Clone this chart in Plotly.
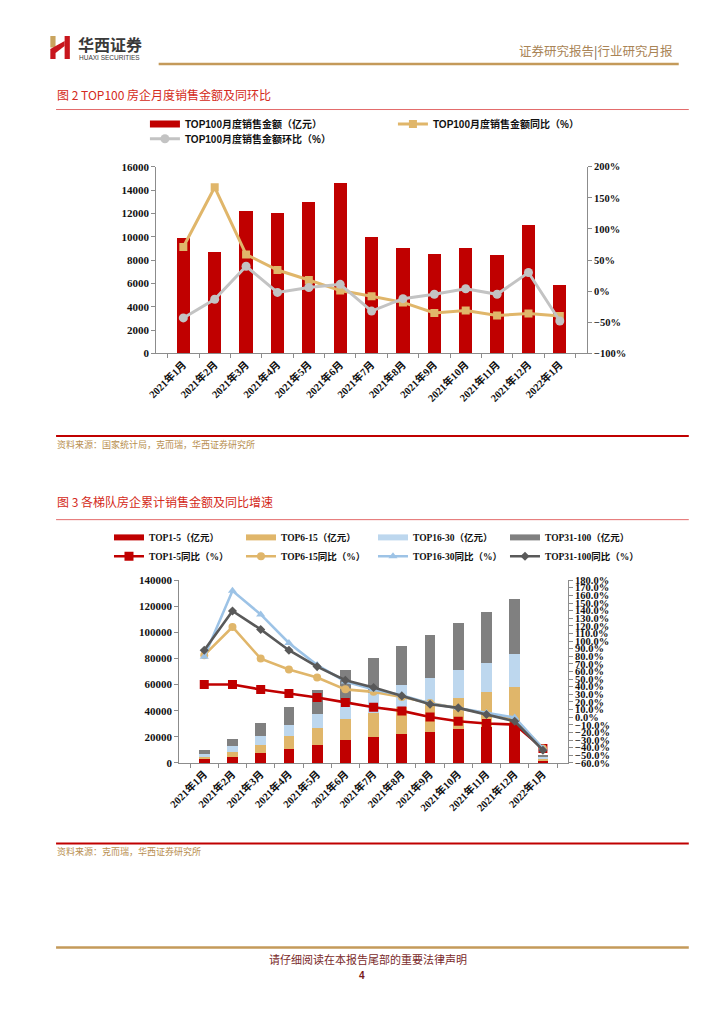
import plotly.graph_objects as go

W, H = 724, 1024

# ---------------- data ----------------
months = ["2021年1月", "2021年2月", "2021年3月", "2021年4月", "2021年5月", "2021年6月",
          "2021年7月", "2021年8月", "2021年9月", "2021年10月", "2021年11月", "2021年12月",
          "2022年1月"]

# Figure 2: TOP100 monthly sales (亿元) and YoY / MoM (%)
top100_sales = [9850, 8700, 12200, 12050, 12950, 14600, 10000, 9000, 8550, 9000, 8430, 11000, 5880]
top100_yoy = [71, 167, 59, 34, 18, 1, -8, -18, -35, -31, -39, -36, -40]
top100_mom = [-43, -13, 40, -2, 6, 11, -32, -12, -5, 4, -5, 30, -48]

# Figure 3: cumulative sales by tier (亿元)
top1_5 = [2650, 4600, 7700, 10800, 13900, 17500, 20000, 22000, 23900, 25700, 27700, 29800, 2100]
top6_15 = [1950, 3900, 6400, 9700, 12800, 15900, 18500, 21000, 23100, 24300, 26700, 28200, 1300]
top16_30 = [2050, 4200, 6700, 8500, 10500, 13500, 15000, 16500, 18400, 21300, 22100, 25600, 1200]
top31_100 = [3150, 5700, 9700, 14100, 18700, 23900, 26800, 29700, 32800, 35900, 39200, 42300, 1300]

# Figure 3: YoY growth by tier (%)
yoy1_5 = [43, 43, 36.4, 31, 26, 19.5, 13, 8.3, 0.4, -5.3, -8.3, -9.6, -41]
yoy6_15 = [81.5, 118.5, 77, 62.7, 52.2, 36.6, 33.3, 26.7, 18.8, 12.3, 4.8, -1.8, -41]
yoy16_30 = [79.5, 166, 135, 97.6, 68.5, 47, 36.4, 28.9, 18, 12.3, 5.7, -0.4, -41]
yoy31_100 = [88, 139.5, 115.3, 88, 66.5, 48.6, 39, 28, 17, 12.3, 3.5, -5.3, -43.4]

# ---------------- styles ----------------
RED = "#C00000"
TAN = "#E0B66A"
LGRAY = "#C3C3C3"
LBLUE_BAR = "#BDD7EE"
LBLUE_LINE = "#9DC3E6"
DGRAY_BAR = "#808080"
DGRAY_LINE = "#595959"
AX = "#8C8C8C"
TITLE_RED = "#D42A20"
SRC = "#B88E4E"
GOLD = "#C49A5A"

SERIF = "Liberation Serif, Noto Sans CJK SC"
CJK = "Noto Sans CJK SC"

# placement helpers (page pixel -> paper fraction), with a small calibration
SX, OX = 0.979, 13.2
SY, OY = 0.988, 6.0


def px(x):
    return (x - OX) / SX / W


def py(y):
    return 1 - (y - OY) / SY / H


def rx(x):  # raw page px
    return x / W


def ry(y):
    return 1 - y / H


fig = go.Figure()

# ---------------- chart 1 ----------------
fig.add_trace(go.Bar(x=months, y=top100_sales, width=0.42, marker=dict(color=RED, line=dict(width=0)),
                     showlegend=False, xaxis="x", yaxis="y"))
fig.add_trace(go.Scatter(x=[None], y=[None], mode="lines", line=dict(color=RED, width=7),
                         name="TOP100月度销售金额（亿元）", legend="legend", legendrank=1,
                         xaxis="x", yaxis="y"))
fig.add_trace(go.Scatter(x=months, y=top100_yoy, mode="lines+markers",
                         line=dict(color=TAN, width=3), marker=dict(symbol="square", size=8, color=TAN),
                         name="TOP100月度销售金额同比（%）", legend="legend", legendrank=2,
                         xaxis="x", yaxis="y2"))
fig.add_trace(go.Scatter(x=months, y=top100_mom, mode="lines+markers",
                         line=dict(color=LGRAY, width=3), marker=dict(symbol="circle", size=9, color=LGRAY),
                         name="TOP100月度销售金额环比（%）", legend="legend2", legendrank=3,
                         xaxis="x", yaxis="y2"))

# ---------------- chart 2 ----------------
bar_series = [("TOP1-5（亿元）", top1_5, RED), ("TOP6-15（亿元）", top6_15, TAN),
              ("TOP16-30（亿元）", top16_30, LBLUE_BAR), ("TOP31-100（亿元）", top31_100, DGRAY_BAR)]
for name, vals, col in bar_series:
    fig.add_trace(go.Bar(x=months, y=vals, width=0.38, marker=dict(color=col, line=dict(width=0)),
                         showlegend=False, xaxis="x2", yaxis="y3"))
for i, (name, vals, col) in enumerate(bar_series):
    fig.add_trace(go.Scatter(x=[None], y=[None], mode="lines", line=dict(color=col, width=6),
                             name=name, legend="legend3", legendrank=10 + i, xaxis="x2", yaxis="y3"))

line_series = [("TOP1-5同比（%）", yoy1_5, RED, "square", 9),
               ("TOP6-15同比（%）", yoy6_15, TAN, "circle", 8),
               ("TOP16-30同比（%）", yoy16_30, LBLUE_LINE, "triangle-up", 8),
               ("TOP31-100同比（%）", yoy31_100, DGRAY_LINE, "diamond", 7)]
for i, (name, vals, col, sym, sz) in enumerate(line_series):
    fig.add_trace(go.Scatter(x=months, y=vals, mode="lines+markers",
                             line=dict(color=col, width=2.6), marker=dict(symbol=sym, size=sz, color=col),
                             name=name, legend="legend4", legendrank=20 + i, xaxis="x2", yaxis="y4"))

tick_num = dict(family=SERIF, size=11, color="#111111", weight="bold")
tick_pct = dict(family=SERIF, size=10.5, color="#111111", weight="bold")
tick_x = dict(family=SERIF, size=10.5, color="#111111", weight="bold")

common_axis = dict(showline=True, linecolor=AX, linewidth=1, ticks="outside", ticklen=4,
                   tickcolor=AX, showgrid=False, zeroline=False, fixedrange=True)

legend_common = dict(orientation="h", xanchor="left", yanchor="middle", bgcolor="rgba(0,0,0,0)",
                     itemwidth=30, entrywidthmode="pixels", tracegroupgap=0, traceorder="normal")

LEG1_FONT = dict(family="Liberation Sans, Noto Sans CJK SC", size=10, color="#111111", weight="bold")
LEG2_FONT = dict(family=SERIF, size=9.5, color="#111111", weight="bold")

fig.update_layout(
    width=W, height=H, margin=dict(l=0, r=0, t=0, b=0),
    paper_bgcolor="white", plot_bgcolor="rgba(0,0,0,0)",
    barmode="stack",
    xaxis=dict(domain=[px(157.5), px(585.8)], anchor="y", type="category", tickson="boundaries",
               tickangle=-45, tickfont=tick_x, **common_axis),
    yaxis=dict(domain=[py(353.3), py(166.7)], anchor="x", range=[0, 16000], dtick=2000,
               tickformat="d", tickfont=tick_num, **common_axis),
    yaxis2=dict(overlaying="y", side="right", anchor="x", range=[-100, 200], dtick=50,
                ticksuffix="%", tickfont=tick_pct, **common_axis),
    xaxis2=dict(domain=[px(180.4), px(566.9)], anchor="y3", type="category", tickson="boundaries",
                tickangle=-45, tickfont=tick_x, **common_axis),
    yaxis3=dict(domain=[py(762.7), py(580)], anchor="x2", range=[0, 140000], dtick=20000,
                tickformat="d", tickfont=tick_num, **common_axis),
    yaxis4=dict(overlaying="y3", side="right", anchor="x2", range=[-60, 180], dtick=10,
                tickformat=".1f", ticksuffix="%", tickfont=tick_pct, **common_axis),
    legend=dict(x=rx(136), y=ry(119.3), entrywidth=203, font=LEG1_FONT, **legend_common),
    legend2=dict(x=rx(136), y=ry(134.3), entrywidth=203, font=LEG1_FONT, **legend_common),
    legend3=dict(x=rx(99.5), y=ry(537.7), entrywidth=87, font=LEG2_FONT, **legend_common),
    legend4=dict(x=rx(99.5), y=ry(556.7), entrywidth=87, font=LEG2_FONT, **legend_common),
)

# ---------------- page decorations ----------------
shapes = []


def hline(x0, x1, y, color, width):
    shapes.append(dict(type="line", xref="paper", yref="paper", x0=px(x0), x1=px(x1), y0=py(y), y1=py(y),
                       line=dict(color=color, width=width)))


hline(160, 677, 64, GOLD, 2.5)          # header rule
hline(58, 687, 109.5, "#E36A6A", 1)     # under title 2
hline(58, 687, 436, RED, 2)             # above source 1
hline(58, 687, 519.5, "#E36A6A", 1)     # under title 3
hline(58, 687, 843.3, RED, 2)           # above source 2
hline(58, 687, 947.3, GOLD, 2.5)        # footer rule


def rect(x0, y0, x1, y1, color):
    shapes.append(dict(type="rect", xref="paper", yref="paper", x0=px(x0), x1=px(x1), y0=py(y1), y1=py(y0),
                       fillcolor=color, line=dict(width=0)))


# logo
rect(52.3, 36, 57.5, 47.5, "#C9A45E")
rect(66.5, 36, 71.7, 59, "#C8161D")
rect(52.3, 49, 57.5, 59, "#C8161D")
pts = [(52.3, 49), (66.5, 41), (66.5, 46), (57.5, 53)]
path = "M " + " L ".join(f"{px(a)},{py(b)}" for a, b in pts) + " Z"
shapes.append(dict(type="path", xref="paper", yref="paper", path=path, fillcolor="#C8161D", line=dict(width=0)))

annotations = []


def text(x, y, s, size, color, family=CJK, xanchor="left", weight="normal"):
    annotations.append(dict(x=px(x), y=py(y), xref="paper", yref="paper", text=s, showarrow=False,
                            xanchor=xanchor, yanchor="middle",
                            font=dict(family=family, size=size, color=color, weight=weight)))


text(78, 44, "华西证券", 16, "#3A3A3A", weight="bold")
text(79, 57.5, "HUAXI SECURITIES", 6.5, "#3A3A3A", family="Liberation Sans")
text(673, 50.5, "证券研究报告<span style='color:#6b5a4a'>|</span>行业研究月报", 12.5, "#A98456", xanchor="right")

text(57, 94, "图 2 TOP100 房企月度销售金额及同环比", 12, TITLE_RED)
text(57, 444, "资料来源：国家统计局，克而瑞，华西证券研究所", 9, SRC)
text(57, 501.7, "图 3 各梯队房企累计销售金额及同比增速", 12, TITLE_RED)
text(57, 851.5, "资料来源：克而瑞，华西证券研究所", 9, SRC)
text(368, 958.3, "请仔细阅读在本报告尾部的重要法律声明", 11, "#7A2A2A", xanchor="center")
text(362, 975.7, "4", 10, "#7A1A1A", family="Liberation Sans", xanchor="center", weight="bold")

fig.update_layout(shapes=shapes, annotations=annotations)

fig.write_html("out.html", config={"displayModeBar": False},
               post_script="document.body.style.margin='0';document.body.style.overflow='hidden';")
